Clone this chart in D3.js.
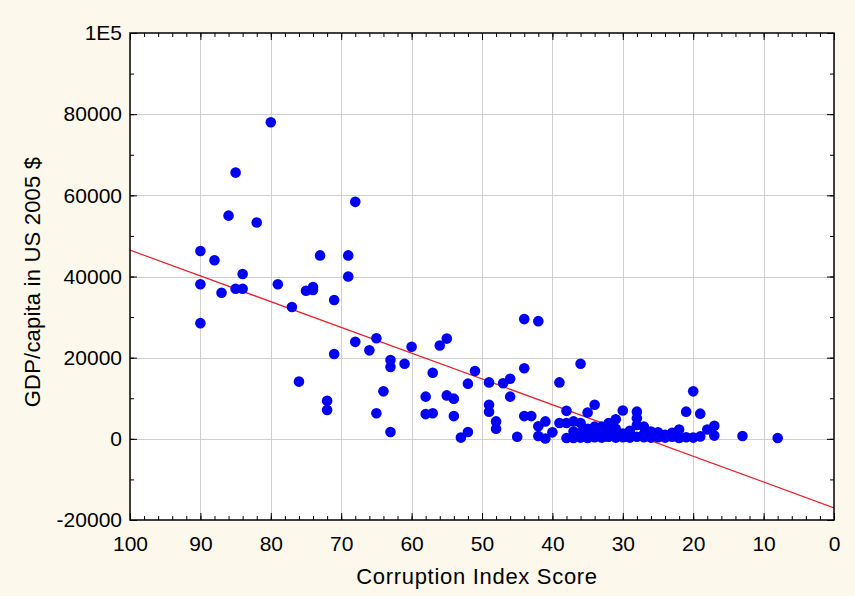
<!DOCTYPE html>
<html>
<head>
<meta charset="utf-8">
<script src="https://cdn.jsdelivr.net/npm/d3@7"></script>
<style>
  html, body { margin: 0; padding: 0; background: #fdf8ec; }
  svg { display: block; }
  text { font-family: "Liberation Sans", Arial, sans-serif; fill: #000; }
</style>
</head>
<body>
<svg id="chart" width="855" height="596"></svg>
<script>
// ---- data ----
const scores = [
  90, 88, 86, 85, 82, 80, 73, 69, 68,
  90, 87, 84, 85, 84, 90, 79, 77, 75, 74, 74, 69, 71, 71, 76, 72, 72,
  68, 66, 65, 63, 63, 61, 60, 64, 65, 63, 57, 56, 55, 58, 55, 54, 58, 57, 54, 53, 52, 52, 51,
  49, 49, 49, 48, 48, 47, 46, 46, 45, 44, 42, 44, 44, 43, 42, 42, 41, 41, 40,
  39, 36, 38, 39, 38, 37, 36, 38, 37, 36, 35, 37, 36,
  35, 34, 34, 33, 32, 31, 30, 33.7, 32.8, 31.8,
  34, 33, 32, 31, 30, 29, 28, 27, 26,
  28, 28, 28, 27, 26, 25, 22, 21, 20, 19, 18, 17, 17, 13, 8,
  25, 24, 23, 22, 21, 20, 19, 22,
  35, 34, 33, 32, 31, 30, 29, 29, 27, 26, 24, 23, 35, 33, 36, 31, 30, 34, 32.5, 29.5, 33.3
];
const gdp = [
  46300, 44000, 55000, 65600, 53300, 78000, 45200, 45200, 58400,
  38100, 36000, 40600, 37000, 37000, 28500, 38100, 32500, 36500, 37400, 36700, 40000, 34200, 20900, 14100, 9400, 7100,
  23900, 21800, 24800, 19400, 17700, 18500, 22700, 11700, 6300, 1700, 16300, 23000, 24700, 10400, 10700, 9900, 6100, 6300, 5600, 300, 1700, 13600, 16700,
  13900, 8400, 6700, 4300, 2500, 13700, 14800, 10400, 500, 29500, 29000, 17400, 5600, 5600, 3100, 700, 4300, 100, 1600,
  13900, 18500, 6900, 3900, 3900, 4300, 3900, 200, 200, 300, 200, 1800, 1500,
  6500, 8400, 3000, 3000, 3900, 4800, 7000, 1500, 1500, 1500,
  400, 300, 500, 300, 400, 300, 500, 400, 300,
  6700, 5100, 3400, 3000, 1800, 1600, 2300, 6700, 11700, 6200, 2300, 3200, 800, 700, 200,
  400, 300, 500, 300, 400, 300, 600, 200,
  1000, 1200, 800, 2200, 1000, 1300, 1000, 2000, 1200, 800, 1000, 1500, 2500, 2000, 800, 2500, 800, 2200, 600, 600, 900
];
// fitted regression line endpoints
const fitScores = [100, 0];
const fitGdp = [46500, -17000];
// axis ticks
const xTicks = [100, 90, 80, 70, 60, 50, 40, 30, 20, 10, 0];
const yTicks = [-20000, 0, 20000, 40000, 60000, 80000, 100000];
const yTickLabels = ["-20000", "0", "20000", "40000", "60000", "80000", "1E5"];
const xMinor = d3.range(0, 101, 2);
const yMinor = d3.range(-20000, 100001, 10000);

// ---- layout ----
const svg = d3.select("#chart");
const W = 855, H = 596;
const m = { left: 130, right: 21, top: 33, bottom: 76 };
const iw = W - m.left - m.right, ih = H - m.top - m.bottom;

const x = d3.scaleLinear().domain([100, 0]).range([m.left, m.left + iw]);
const y = d3.scaleLinear().domain([-20000, 100000]).range([m.top + ih, m.top]);

// plot background
svg.append("rect").attr("x", m.left).attr("y", m.top).attr("width", iw).attr("height", ih)
  .attr("fill", "#ffffff");

// grid
const grid = svg.append("g").attr("stroke", "#cfcfcf").attr("stroke-width", 1);
grid.selectAll("line.gx").data(xTicks.filter(d => d !== 100 && d !== 0)).enter().append("line")
  .attr("x1", d => Math.round(x(d)) + 0.5).attr("x2", d => Math.round(x(d)) + 0.5)
  .attr("y1", m.top).attr("y2", m.top + ih);
grid.selectAll("line.gy").data(yTicks.filter(d => d !== -20000 && d !== 100000)).enter().append("line")
  .attr("y1", d => Math.round(y(d)) + 0.5).attr("y2", d => Math.round(y(d)) + 0.5)
  .attr("x1", m.left).attr("x2", m.left + iw);

// regression line (clipped to plot area)
svg.append("clipPath").attr("id", "clip").append("rect")
  .attr("x", m.left).attr("y", m.top).attr("width", iw).attr("height", ih);
svg.append("path")
  .datum(d3.zip(fitScores, fitGdp))
  .attr("clip-path", "url(#clip)")
  .attr("fill", "none").attr("stroke", "#e8202a").attr("stroke-width", 1.2)
  .attr("d", d3.line().x(d => x(d[0])).y(d => y(d[1])));

// points
svg.append("g").attr("clip-path", "url(#clip)")
  .selectAll("circle").data(d3.zip(scores, gdp)).enter().append("circle")
  .attr("cx", d => x(d[0])).attr("cy", d => y(d[1])).attr("r", 5.3)
  .attr("fill", "#0000f5");

// axes (ticks pointing inward, on all four sides)
function styleAxis(g) {
  g.select(".domain").remove();
  g.selectAll(".tick line").attr("stroke", "#000").attr("stroke-width", 1);
}
const tickFont = g => g.selectAll("text").attr("font-size", 21)
  .attr("font-family", "Liberation Sans, Arial, sans-serif");
// bottom
svg.append("g").attr("transform", `translate(0,${m.top + ih})`)
  .call(d3.axisBottom(x).tickValues(xMinor).tickSize(-4).tickFormat(""))
  .call(styleAxis);
svg.append("g").attr("transform", `translate(0,${m.top + ih})`)
  .call(d3.axisBottom(x).tickValues(xTicks).tickSize(-7).tickPadding(16).tickFormat(d3.format("d")))
  .call(styleAxis).call(tickFont);
// top
svg.append("g").attr("transform", `translate(0,${m.top})`)
  .call(d3.axisTop(x).tickValues(xMinor).tickSize(-4).tickFormat(""))
  .call(styleAxis);
svg.append("g").attr("transform", `translate(0,${m.top})`)
  .call(d3.axisTop(x).tickValues(xTicks).tickSize(-7).tickFormat(""))
  .call(styleAxis);
// left
svg.append("g").attr("transform", `translate(${m.left},0)`)
  .call(d3.axisLeft(y).tickValues(yMinor).tickSize(-4).tickFormat(""))
  .call(styleAxis);
svg.append("g").attr("transform", `translate(${m.left},0)`)
  .call(d3.axisLeft(y).tickValues(yTicks).tickSize(-7).tickPadding(8)
    .tickFormat((d, i) => yTickLabels[i]))
  .call(styleAxis).call(tickFont);
// right
svg.append("g").attr("transform", `translate(${m.left + iw},0)`)
  .call(d3.axisRight(y).tickValues(yMinor).tickSize(-4).tickFormat(""))
  .call(styleAxis);
svg.append("g").attr("transform", `translate(${m.left + iw},0)`)
  .call(d3.axisRight(y).tickValues(yTicks).tickSize(-7).tickFormat(""))
  .call(styleAxis);

// frame
svg.append("rect").attr("x", m.left).attr("y", m.top).attr("width", iw).attr("height", ih)
  .attr("fill", "none").attr("stroke", "#000").attr("stroke-width", 1.5);

// axis titles
svg.append("text").attr("x", 477).attr("y", 584).attr("text-anchor", "middle")
  .attr("font-size", 22).attr("letter-spacing", 0.7).text("Corruption Index Score");
svg.append("text").attr("transform", "translate(40,282) rotate(-90)").attr("text-anchor", "middle")
  .attr("font-size", 22).attr("letter-spacing", 0.2).text("GDP/capita in US 2005 $");
</script>
</body>
</html>
